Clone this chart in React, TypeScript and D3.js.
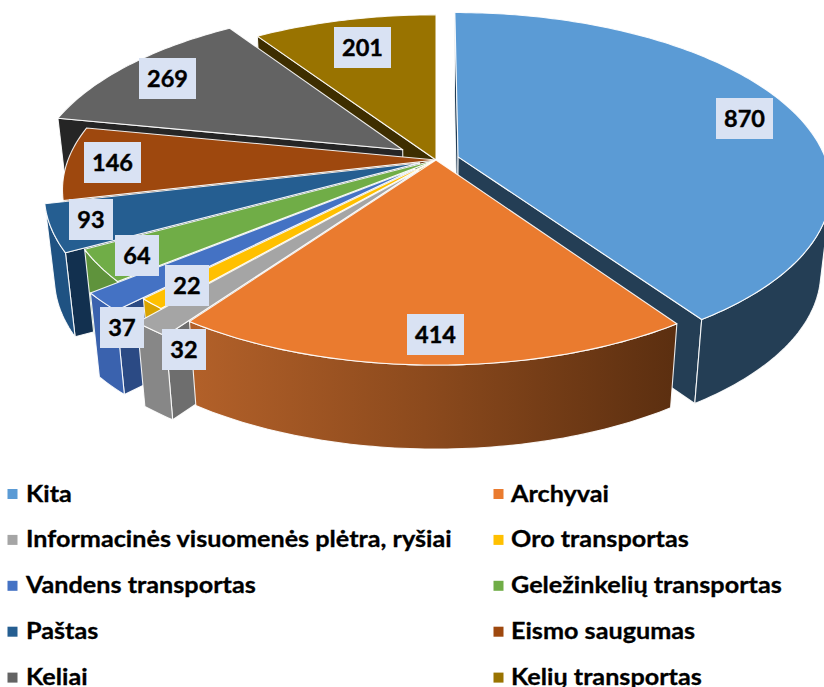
import React from "react";
import * as d3 from "d3";

const categories = ["Kita","Archyvai","Informacinės visuomenės plėtra, ryšiai","Oro transportas","Vandens transportas","Geležinkelių transportas","Paštas","Eismo saugumas","Keliai","Kelių transportas"];
const values = [870,414,32,22,37,64,93,146,269,201];
const explosion = [0.063,0,0.078,0,0.078,0,0.048,0,0.11,0];
const topColors = ["#5b9bd5","#ea7b2f","#a5a5a5","#ffc000","#4472c4","#70ad47","#255e91","#9e480e","#636363","#997300"];
const outerWallColors = ["#243e55","url(#orangeWall)","#878787","#d9a400","#3a62ae","#5f933c","#1f5282","#7d3a0c","#252525","#3e2e00"];
const radialWallColors = ["#243e55","#5c2f10","#6e6e6e","#b88c00","#2b4a84","#4a7030","#12304f","#5a2a08","#252525","#3e2e00"];
const labelCenters: [number, number][] = [[744.5,118.5],[435.5,334.5],[184,349.5],[187,285.5],[122,327.5],[137,255.5],[91,219.5],[112.5,162.5],[167.5,78.5],[362.5,47.5]];

const W = 824, H = 687;
const CX = 436, CY = 160, RX = 368, RY = 170, PERSP = 0.171;
const BOTTOM_SCALE = 0.974, DEPTH = 84;
const legendRows = d3.range(5).map((i) => 494 + i * 45.9);
const legendCols = [{ sq: 7.5, tx: 26 }, { sq: 493.5, tx: 511 }];

type P = [number, number];
const project = (u: number, v: number): P => {
  const w = 1 - PERSP * v;
  return [CX + (RX * u) / w, CY + (RY * v) / w];
};
const drop = ([x, y]: P): P => [CX + (x - CX) * BOTTOM_SCALE, y + DEPTH];
const area = (pts: P[]) => {
  let s = 0;
  pts.forEach((p, i) => {
    const q = pts[(i + 1) % pts.length];
    s += p[0] * q[1] - q[0] * p[1];
  });
  return s / 2;
};
const closed = d3.line<P>().curve(d3.curveLinearClosed);

const arcs = d3.pie<number>().sort(null).value((d) => d)(values);

const slices = arcs.map((a, i) => {
  const mid = (a.startAngle + a.endAngle) / 2;
  const ou = explosion[i] * Math.sin(mid);
  const ov = -explosion[i] * Math.cos(mid);
  const at = (t: number): P => project(ou + Math.sin(t), ov - Math.cos(t));
  const apex = project(ou, ov);
  const steps = Math.max(4, Math.ceil((a.endAngle - a.startAngle) / (Math.PI / 180)));
  const rim = d3.range(steps + 1).map((k) => at(a.startAngle + ((a.endAngle - a.startAngle) * k) / steps));
  const top = [apex, ...rim];

  const runs: P[][] = [];
  let cur: P[] = [];
  for (let k = 0; k < steps; k++) {
    const vis = area([rim[k], rim[k + 1], drop(rim[k + 1]), drop(rim[k])]) < 0;
    if (vis) {
      if (!cur.length) cur.push(rim[k]);
      cur.push(rim[k + 1]);
    } else if (cur.length) {
      runs.push(cur);
      cur = [];
    }
  }
  if (cur.length) runs.push(cur);
  const outer = runs.map((r) => [...r, ...r.slice().reverse().map(drop)]);

  const face = (p: P): P[] => [apex, p, drop(p), drop(apex)];
  const startFace = face(rim[0]);
  const endFace = face(rim[steps]);
  const radial: P[][] = [];
  if (area(startFace) < 0) radial.push(startFace);
  if (area(endFace) > 0) radial.push(endFace);
  return { i, depth: -Math.cos(mid), top, outer, radial };
});
const ordered = slices.slice().sort((a, b) => a.depth - b.depth);

export default function App() {
  const font = "Lato, 'Open Sans', sans-serif";
  return (
    <svg width={W} height={H} viewBox={`0 0 ${W} ${H}`} style={{ position: "absolute", left: 0, top: 0, background: "#fff" }}>
      <defs>
        <linearGradient id="orangeWall" gradientUnits="userSpaceOnUse" x1={176} x2={672} y1={0} y2={0}>
          <stop offset="0" stopColor="#b5622a" />
          <stop offset="0.5" stopColor="#8c4a1d" />
          <stop offset="1" stopColor="#5c2f10" />
        </linearGradient>
      </defs>
      {ordered.map((s) => (
        <g key={s.i} stroke="#fff" strokeWidth={1.1} strokeLinejoin="round" strokeOpacity={0.9}>
          {s.radial.map((p, k) => (
            <path key={k} d={closed(p) as string} fill={radialWallColors[s.i]} />
          ))}
          {s.outer.map((p, k) => (
            <path key={k} d={closed(p) as string} fill={outerWallColors[s.i]} />
          ))}
          <path d={closed(s.top) as string} fill={topColors[s.i]} />
        </g>
      ))}
      {values.map((v, i) => {
        const w = String(v).length === 3 ? 57 : 44;
        const [x, y] = labelCenters[i];
        return (
          <g key={i}>
            <rect x={x - w / 2} y={y - 20.5} width={w} height={41} fill="#d9e2f3" />
            <text x={x} y={y + 8.5} textAnchor="middle" fontFamily={font} fontWeight={700} fontSize={23.5} fill="#000" stroke="#000" strokeWidth={0.4}>{v}</text>
          </g>
        );
      })}
      {categories.map((c, i) => {
        const col = legendCols[i % 2];
        const y = legendRows[Math.floor(i / 2)];
        return (
          <g key={c}>
            <rect x={col.sq} y={y - 5} width={10} height={10} fill={topColors[i]} />
            <text transform={`translate(${col.tx},${y + 7.5}) scale(1.12,1)`} fontFamily={font} fontWeight={700} fontSize={22.5} fill="#000" stroke="#000" strokeWidth={0.3}>{c}</text>
          </g>
        );
      })}
    </svg>
  );
}
